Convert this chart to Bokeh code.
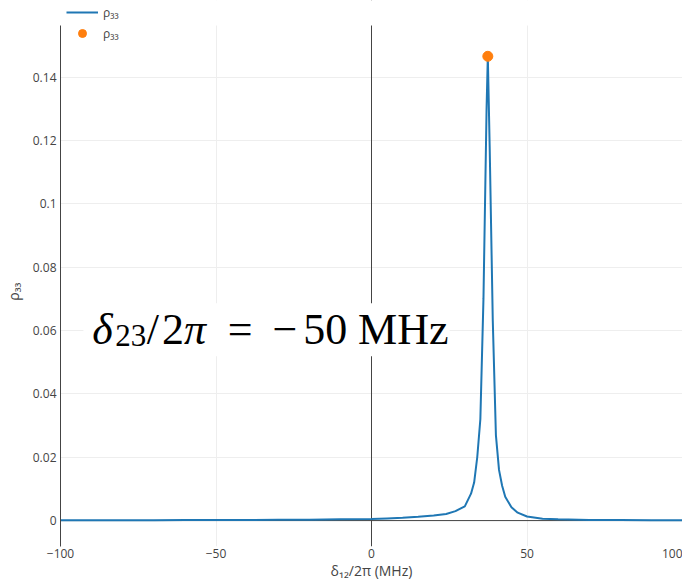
from bokeh.plotting import figure
from bokeh.models import (Range1d, FixedTicker, Span, BoxAnnotation, Label,
                          Legend)
from bokeh.embed import file_html
from bokeh.resources import INLINE

# ---- data ----
detuning = [-100, -90, -80, -70, -60, -50, -40, -30, -20, -10, 0, 5, 10, 15,
            20, 24, 27, 30, 32, 33, 34, 35, 36, 37, 37.4, 38, 39, 40, 41, 42,
            43, 45, 47, 50, 55, 60, 70, 80, 90, 100]
rho33 = [0.0001, 0.0001, 0.0001, 0.00012, 0.00015, 0.00017, 0.0002, 0.00025,
         0.0003, 0.0004, 0.0005, 0.0007, 0.0009, 0.0012, 0.0016, 0.0021,
         0.003, 0.0045, 0.0085, 0.012, 0.020, 0.032, 0.070, 0.130, 0.1466,
         0.118, 0.063, 0.027, 0.016, 0.011, 0.0075, 0.0042, 0.0025, 0.0013,
         0.0006, 0.0004, 0.0002, 0.00015, 0.0001, 0.0001]
peak_x = [37.4]
peak_y = [0.1466]

x_ticks = [-100, -50, 0, 50, 100]
x_tick_labels = ["\u2212100", "\u221250", "0", "50", "100"]
y_ticks = [0, 0.02, 0.04, 0.06, 0.08, 0.1, 0.12, 0.14]
y_tick_labels = ["0", "0.02", "0.04", "0.06", "0.08", "0.1", "0.12", "0.14"]

FONT = "Open Sans"
TXT = "#444444"
Y_BOTTOM = -0.00818
Y_TOP = 0.15636      # top of the plotting area
Y_CANVAS_TOP = 0.16422  # extra room above for the legend

p = figure(width=682, height=582, output_backend="svg", toolbar_location=None,
           x_range=Range1d(-100, 100), y_range=Range1d(Y_BOTTOM, Y_CANVAS_TOP),
           min_border_left=57, min_border_right=0, min_border_top=0,
           min_border_bottom=34)
p.outline_line_color = None
p.background_fill_color = "white"
p.border_fill_color = "white"

for ax in (p.xaxis[0], p.yaxis[0]):
    ax.major_tick_line_color = None
    ax.minor_tick_line_color = None
    ax.major_tick_out = 0
    ax.major_tick_in = 0
    ax.minor_tick_out = 0
    ax.minor_tick_in = 0
    ax.major_label_text_font = FONT
    ax.major_label_text_font_size = "12px"
    ax.major_label_text_color = TXT
    ax.axis_label_text_font = FONT
    ax.axis_label_text_font_size = "14px"
    ax.axis_label_text_font_style = "normal"
    ax.axis_label_text_color = TXT

p.xaxis.ticker = FixedTicker(ticks=x_ticks)
p.xaxis.major_label_overrides = dict(zip(x_ticks, x_tick_labels))
p.xaxis.axis_line_color = None
p.xaxis.major_label_standoff = 2
p.xaxis.axis_label = "\u03b4\u2081\u2082/2\u03c0 (MHz)"
p.xaxis.axis_label_standoff = 0

p.yaxis.ticker = FixedTicker(ticks=y_ticks)
p.yaxis.major_label_overrides = dict(zip(y_ticks, y_tick_labels))
p.yaxis.axis_line_color = TXT
p.yaxis.axis_line_width = 1
p.yaxis.bounds = (Y_BOTTOM, Y_TOP)
p.yaxis.major_label_standoff = 4
# trailing no-break spaces nudge the rotated title down to the plot centre
p.yaxis.axis_label = "\u03c1\u2083\u2083" + "\u00a0" * 10
p.yaxis.axis_label_standoff = 7

p.xgrid.ticker = FixedTicker(ticks=x_ticks)
p.ygrid.ticker = FixedTicker(ticks=y_ticks)
p.xgrid.grid_line_color = "#eeeeee"
p.ygrid.grid_line_color = "#eeeeee"

# zero lines
p.add_layout(Span(location=0, dimension="height", line_color=TXT,
                  line_width=1, level="underlay"))
p.add_layout(Span(location=0, dimension="width", line_color=TXT,
                  line_width=1, level="underlay"))

# white strip above the plotting area (legend area)
p.add_layout(BoxAnnotation(bottom=Y_TOP, fill_color="white", fill_alpha=1.0,
                           line_color=None, level="underlay"))

# white box behind annotation text
p.add_layout(BoxAnnotation(left=-92.64, right=25.12, bottom=0.0519, top=0.0686,
                           fill_color="white", fill_alpha=1.0, line_color=None,
                           level="underlay"))

line = p.line(detuning, rho33, line_color="#1f77b4", line_width=2)
dot = p.scatter(peak_x, peak_y, size=10, color="#ff7f0e")

SERIF = "Liberation Serif"
base_y = 0.0604
sub_y = 0.0585
pieces = [
    ("\u03b4", -89.76, base_y, "44px", "italic"),
    ("23", -82.4, sub_y, "31px", "normal"),
    ("/", -72.3, base_y, "44px", "normal"),
    ("2", -67.36, base_y, "44px", "normal"),
    ("\u03c0", -60.32, base_y, "44px", "italic"),
    ("=", -46.24, base_y, "44px", "normal"),
    ("\u2212", -31.84, base_y, "44px", "normal"),
    ("50", -21.92, base_y, "44px", "normal"),
    ("MHz", -4.32, base_y, "44px", "normal"),
]
for txt, xx, yy, size, style in pieces:
    p.add_layout(Label(x=xx, y=yy, text=txt, text_font=SERIF,
                       text_font_size=size, text_font_style=style,
                       text_color="black", text_align="left",
                       text_baseline="alphabetic"))

legend = Legend(items=[("\u03c1\u2083\u2083", [line]),
                       ("\u03c1\u2083\u2083", [dot])],
                location=(6, 503), orientation="vertical",
                glyph_width=32, glyph_height=20, label_height=20,
                spacing=1, padding=0, margin=0, label_standoff=5,
                label_text_font=FONT, label_text_font_size="12px",
                label_text_color=TXT, border_line_color=None,
                background_fill_alpha=0)
p.add_layout(legend, "center")

open("out.html", "w").write(file_html(p, INLINE))
